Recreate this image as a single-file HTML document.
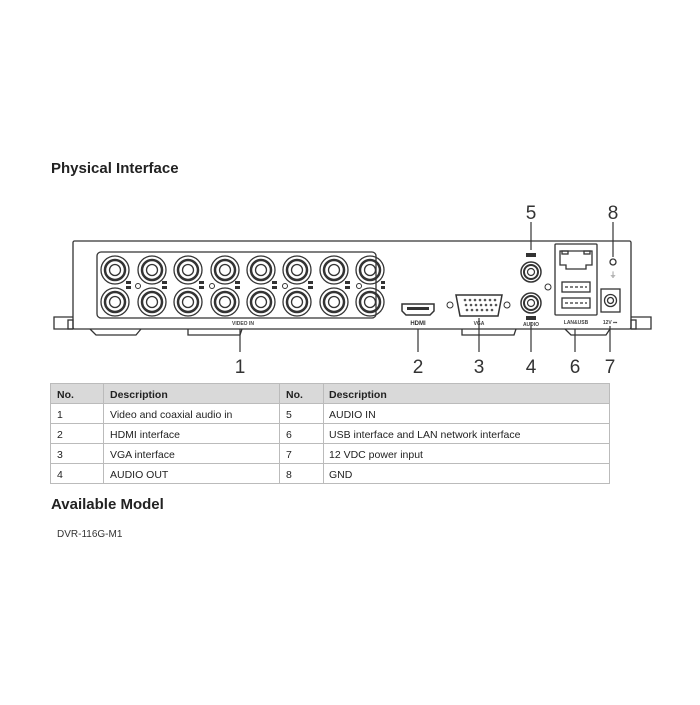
<!DOCTYPE html>
<html><head><style>
body{margin:0;background:#fff;width:700px;height:700px;overflow:hidden;font-family:"Liberation Sans",sans-serif;}
</style></head><body>
<svg width="700" height="700" viewBox="0 0 700 700" xmlns="http://www.w3.org/2000/svg" font-family="Liberation Sans, sans-serif">
<defs>
<g id="b" fill="none" stroke="#333">
<circle cx="0" cy="0" r="14" stroke-width="1.3"/>
<circle cx="0" cy="0" r="10" stroke-width="2.5"/>
<circle cx="0" cy="0" r="5.5" stroke-width="1.3"/>
</g>
</defs>
<text x="51" y="173" font-size="15" font-weight="bold" fill="#222">Physical Interface</text>
<g fill="none" stroke="#333" stroke-width="1.3">
<path d="M73 317 H54 V329 H73"/>
<path d="M631 317 H651 V329 H631"/>
<rect x="68" y="320" width="5" height="9"/>
<rect x="631" y="320" width="5" height="9"/>
<path d="M90 329 L96 335 H136 L141 329"/>
<path d="M188 329 V335 H240 L242 329"/>
<path d="M462 329 V335 H514 L516 329"/>
<path d="M565 329 L571 335 H606 L610 329"/>
<rect x="73" y="241" width="558" height="88" rx="1.5"/>
<rect x="97" y="252" width="279" height="66" rx="4"/>
</g>
<g fill="none" stroke="#333">
<use href="#b" x="115" y="270"/><use href="#b" x="152" y="270"/><use href="#b" x="188" y="270"/><use href="#b" x="225" y="270"/>
<use href="#b" x="261" y="270"/><use href="#b" x="297" y="270"/><use href="#b" x="334" y="270"/><use href="#b" x="370" y="270"/>
<use href="#b" x="115" y="302"/><use href="#b" x="152" y="302"/><use href="#b" x="188" y="302"/><use href="#b" x="225" y="302"/>
<use href="#b" x="261" y="302"/><use href="#b" x="297" y="302"/><use href="#b" x="334" y="302"/><use href="#b" x="370" y="302"/>
<circle cx="138" cy="286" r="2.5"/><circle cx="212" cy="286" r="2.5"/><circle cx="285" cy="286" r="2.5"/><circle cx="359" cy="286" r="2.5"/>
</g>
<g fill="#333">
<rect x="126" y="281" width="5" height="3"/><rect x="126" y="286" width="5" height="3"/>
<rect x="162" y="281" width="5" height="3"/><rect x="162" y="286" width="5" height="3"/>
<rect x="199" y="281" width="5" height="3"/><rect x="199" y="286" width="5" height="3"/>
<rect x="235" y="281" width="5" height="3"/><rect x="235" y="286" width="5" height="3"/>
<rect x="272" y="281" width="5" height="3"/><rect x="272" y="286" width="5" height="3"/>
<rect x="308" y="281" width="5" height="3"/><rect x="308" y="286" width="5" height="3"/>
<rect x="345" y="281" width="5" height="3"/><rect x="345" y="286" width="5" height="3"/>
<rect x="381" y="281" width="4" height="3"/><rect x="381" y="286" width="4" height="3"/>
</g>
<text x="243" y="325" font-size="5" font-weight="bold" fill="#444" text-anchor="middle">VIDEO IN</text>
<path d="M402 304 H434 V311 L430 315 H406 L402 311 Z" fill="none" stroke="#333" stroke-width="1.5"/>
<rect x="407" y="307" width="22" height="3" fill="#333"/>
<text x="418" y="325" font-size="6" font-weight="bold" fill="#333" text-anchor="middle">HDMI</text>
<path d="M456 295 H502 L498 316 H460 Z" fill="none" stroke="#333" stroke-width="1.5"/>
<g fill="#555"><circle cx="465" cy="300" r="1.3"/><circle cx="470" cy="300" r="1.3"/><circle cx="475" cy="300" r="1.3"/><circle cx="480" cy="300" r="1.3"/><circle cx="485" cy="300" r="1.3"/><circle cx="490" cy="300" r="1.3"/><circle cx="495" cy="300" r="1.3"/>
<circle cx="466" cy="305" r="1.3"/><circle cx="471" cy="305" r="1.3"/><circle cx="476" cy="305" r="1.3"/><circle cx="481" cy="305" r="1.3"/><circle cx="486" cy="305" r="1.3"/><circle cx="491" cy="305" r="1.3"/><circle cx="496" cy="305" r="1.3"/>
<circle cx="467" cy="310" r="1.3"/><circle cx="472" cy="310" r="1.3"/><circle cx="477" cy="310" r="1.3"/><circle cx="482" cy="310" r="1.3"/><circle cx="487" cy="310" r="1.3"/><circle cx="492" cy="310" r="1.3"/></g>
<circle cx="450" cy="305" r="3" fill="none" stroke="#333"/><circle cx="507" cy="305" r="3" fill="none" stroke="#333"/>
<text x="479" y="325" font-size="5" font-weight="bold" fill="#444" text-anchor="middle">VGA</text>
<g fill="none" stroke="#333">
<circle cx="531" cy="272" r="10" stroke-width="1.5"/><circle cx="531" cy="272" r="7" stroke-width="2"/><circle cx="531" cy="272" r="3.5" stroke-width="1.2"/>
<circle cx="531" cy="303" r="10" stroke-width="1.5"/><circle cx="531" cy="303" r="7" stroke-width="2"/><circle cx="531" cy="303" r="3.5" stroke-width="1.2"/>
<circle cx="548" cy="287" r="3"/>
</g>
<rect x="526" y="253" width="10" height="4" fill="#333"/>
<rect x="526" y="316" width="10" height="4" fill="#333"/>
<text x="531" y="326" font-size="5" font-weight="bold" fill="#444" text-anchor="middle">AUDIO</text>
<g fill="none" stroke="#333" stroke-width="1.3">
<rect x="555" y="244" width="42" height="71" rx="1"/>
<path d="M560 251 H592 V265 H586 V269 H566 V265 H560 Z"/>
<rect x="562" y="251" width="6" height="3"/><rect x="584" y="251" width="6" height="3"/>
<rect x="562" y="282" width="28" height="10"/><rect x="562" y="298" width="28" height="10"/>
<path d="M565 287 H587 M565 303 H587" stroke-dasharray="3 2"/>
<circle cx="613" cy="262" r="3"/>
<rect x="601" y="289" width="19" height="23"/>
<circle cx="610.5" cy="300.5" r="6"/><circle cx="610.5" cy="300.5" r="3"/>
</g>
<text x="576" y="324" font-size="5" font-weight="bold" fill="#444" text-anchor="middle">LAN&amp;USB</text>
<text x="610" y="324" font-size="5" font-weight="bold" fill="#444" text-anchor="middle">12V ⎓</text>
<text x="613" y="277" font-size="7" fill="#444" text-anchor="middle">⏚</text>
<g stroke="#333" stroke-width="1.2">
<line x1="240" y1="329" x2="240" y2="352"/>
<line x1="418" y1="329" x2="418" y2="352"/>
<line x1="479" y1="318" x2="479" y2="352"/>
<line x1="531" y1="322" x2="531" y2="352"/>
<line x1="575" y1="329" x2="575" y2="352"/>
<line x1="610" y1="326" x2="610" y2="352"/>
<line x1="531" y1="222" x2="531" y2="250"/>
<line x1="613" y1="222" x2="613" y2="257"/>
</g>
<g font-size="19" fill="#333" text-anchor="middle">
<text x="240" y="373">1</text><text x="418" y="373">2</text><text x="479" y="373">3</text><text x="531" y="373">4</text>
<text x="575" y="373">6</text><text x="610" y="373">7</text><text x="531" y="219">5</text><text x="613" y="219">8</text>
</g>
<rect x="50" y="383" width="560" height="20" fill="#d9d9d9"/>
<g stroke="#bbb" stroke-width="1" fill="none">
<rect x="50.5" y="383.5" width="559" height="100"/>
<line x1="50" y1="403.5" x2="610" y2="403.5"/><line x1="50" y1="423.5" x2="610" y2="423.5"/>
<line x1="50" y1="443.5" x2="610" y2="443.5"/><line x1="50" y1="463.5" x2="610" y2="463.5"/>
<line x1="103.5" y1="383" x2="103.5" y2="484"/><line x1="279.5" y1="383" x2="279.5" y2="484"/><line x1="323.5" y1="383" x2="323.5" y2="484"/>
</g>
<g font-size="10.5" fill="#222">
<g font-weight="bold"><text x="57" y="398">No.</text><text x="110" y="398">Description</text><text x="286" y="398">No.</text><text x="329" y="398">Description</text></g>
<text x="57" y="418">1</text><text x="110" y="418">Video and coaxial audio in</text><text x="286" y="418">5</text><text x="329" y="418">AUDIO IN</text>
<text x="57" y="438">2</text><text x="110" y="438">HDMI interface</text><text x="286" y="438">6</text><text x="329" y="438">USB interface and LAN network interface</text>
<text x="57" y="458">3</text><text x="110" y="458">VGA interface</text><text x="286" y="458">7</text><text x="329" y="458">12 VDC power input</text>
<text x="57" y="478">4</text><text x="110" y="478">AUDIO OUT</text><text x="286" y="478">8</text><text x="329" y="478">GND</text>
</g>
<text x="51" y="509" font-size="15" font-weight="bold" fill="#222">Available Model</text>
<text x="57" y="537" font-size="10" fill="#333">DVR-116G-M1</text>
</svg>
</body></html>
